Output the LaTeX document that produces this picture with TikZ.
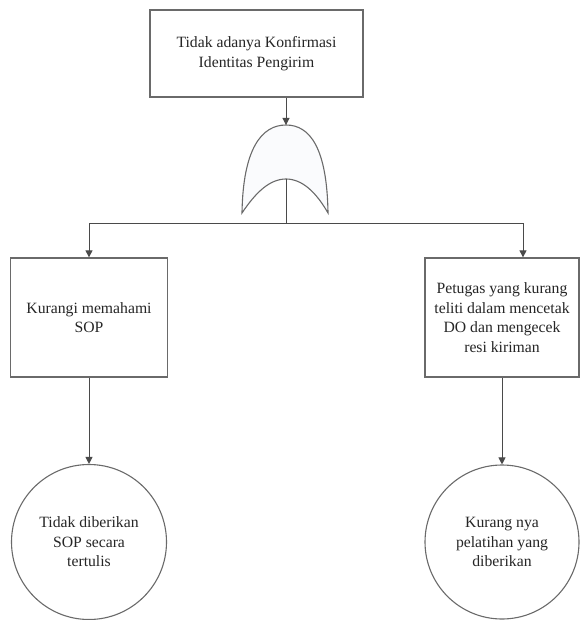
\documentclass[tikz,border=0pt]{standalone}
\usepackage{fontspec}
\setmainfont{Liberation Serif}
\usetikzlibrary{arrows.meta}
\definecolor{linegrey}{HTML}{6A6A6A}
\definecolor{wiregrey}{HTML}{4A4A4A}
\definecolor{gatefill}{HTML}{FAFBFD}
\begin{document}
\begin{tikzpicture}[x=1pt,y=-1pt,
  every node/.style={inner sep=1pt},
  box/.style={draw=linegrey, line width=1.3pt, fill=white, rectangle},
  event/.style={draw=linegrey, line width=1.1pt, fill=white, circle},
  txt/.style={font=\fontsize{15.7}{19.5}\selectfont, align=center, text=black!85},
  wire/.style={draw=wiregrey, line width=1pt},
  conn/.style={wire, -{Triangle[length=7pt,width=7pt]}}]
\useasboundingbox (0,0) rectangle (581,620);

% top event
\node[box, txt, minimum width=213pt, minimum height=87pt] (top) at (256.5,53.5)
  {Tidak adanya Konfirmasi\\Identitas Pengirim};

% OR gate
\coordinate (gtop) at (286,125);
\coordinate (gin) at (286,179);
\coordinate (gl) at (242,213);
\coordinate (gr) at (328,213);
\coordinate (gs) at (286,223);
\coordinate (jl) at (89,223);
\coordinate (jr) at (523,223);
\path[draw=linegrey, line width=1.1pt, fill=gatefill]
  (gl) .. controls (243,148) and (262,125) .. (gtop)
       .. controls (310,125) and (327,148) .. (gr)
       .. controls (316,192) and (302,179) .. (gin)
       .. controls (270,179) and (256,192) .. (gl) -- cycle;

% intermediate events
\node[box, txt, minimum width=157pt, minimum height=119pt] (lbox) at (89,317.5)
  {Kurangi memahami\\SOP};
\node[box, txt, minimum width=154pt, minimum height=119pt] (rbox) at (502,317.5)
  {Petugas yang kurang\\teliti dalam mencetak\\DO dan mengecek\\resi kiriman};

% basic events
\node[event, txt, minimum size=155pt] (lcirc) at (89,542)
  {Tidak diberikan\\SOP secara\\tertulis};
\node[event, txt, minimum size=154pt] (rcirc) at (502,542)
  {Kurang nya\\pelatihan yang\\diberikan};

% connectors
\draw[conn] (gtop |- top.south) -- (gtop);
\draw[wire] (gin) -- (gs);
\draw[wire] (jl) -- (jr);
\draw[conn] (jl) -- (jl |- lbox.north);
\draw[conn] (jr) -- (jr |- rbox.north);
\draw[conn] (lbox.south) -- (lcirc.north);
\draw[conn] (rbox.south) -- (rcirc.north);
\end{tikzpicture}
\end{document}
